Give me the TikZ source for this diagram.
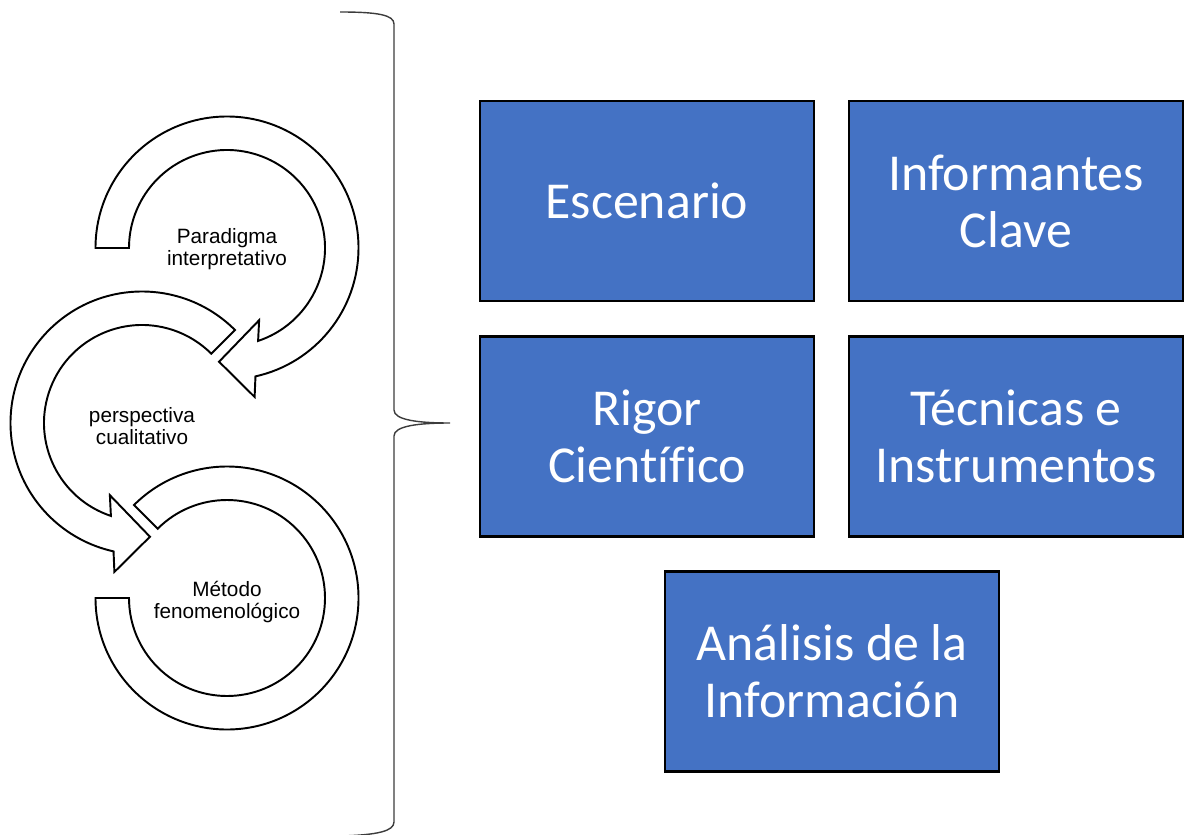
\documentclass[tikz,border=0pt]{standalone}
\usepackage{fontspec}
\setmainfont{Carlito}[Ligatures=CommonOff]
\newfontfamily\arial{Liberation Sans}
\definecolor{azul}{HTML}{4472C4}
\definecolor{llave}{HTML}{3C3C3C}
\tikzset{
    caja/.style={draw=black, line width=1.3pt, fill=azul, text=white, align=center,
        minimum width=6.68cm, minimum height=4cm, inner sep=0pt,
        font=\fontsize{29.5}{32.5}\selectfont},
    flecha/.style={draw=black, line width=1.1pt, fill=white},
    etiqueta/.style={align=center, font=\arial\fontsize{11.8}{12.6}\selectfont}
}
\begin{document}
\begin{tikzpicture}[x=0.02cm, y=-0.02cm]
        \useasboundingbox (0,0) rectangle (1185,834);

        % flechas circulares
        \draw[flecha, shift={(227,598)}] (180:131.5) arc[start angle=180, end angle=-135, radius=131.5]
            -- (-135:98) arc[start angle=-135, end angle=180, radius=98] -- cycle;
        \draw[flecha, shift={(142,423)}] (-45:131.5) arc[start angle=-45, end angle=-257.5, radius=131.5]
            -- (-259.5:151.5) -- (-274:114) -- (-246:79) -- (-251.5:98)
            arc[start angle=-251.5, end angle=-45, radius=98] -- cycle;
        \draw[flecha, shift={(227,248)}] (180:131.5) arc[start angle=180, end angle=437.5, radius=131.5]
            -- (439.5:151.5) -- (454:114) -- (426:79) -- (431.5:98)
            arc[start angle=431.5, end angle=180, radius=98] -- cycle;

        \node[etiqueta] (par) at (227,249) {Paradigma\\interpretativo};
        \node[etiqueta] (per) at (142,426) {perspectiva\\cualitativo};
        \node[etiqueta] (met) at (227,602) {Método\\fenomenológico};

        % llave
        \draw[llave, line width=0.8pt] (340,12) .. controls (378,12) and (394,15) .. (394,24)
            -- (394,410) .. controls (394,420) and (418,423) .. (450,423)
            .. controls (418,423) and (394,426) .. (394,436)
            -- (394,822) .. controls (394,831) and (378,835) .. (340,836);

        % cajas
        \node[caja] (esc) at (647,201) {Escenario};
        \node[caja] (inf) at (1016,201) {Informantes\\Clave};
        \node[caja] (rig) at (647,436.5) {Rigor\\Científico};
        \node[caja] (tec) at (1016,436.5) {Técnicas e\\Instrumentos};
        \node[caja] (ana) at (832,671.5) {Análisis de la\\Información};
\end{tikzpicture}
\end{document}
